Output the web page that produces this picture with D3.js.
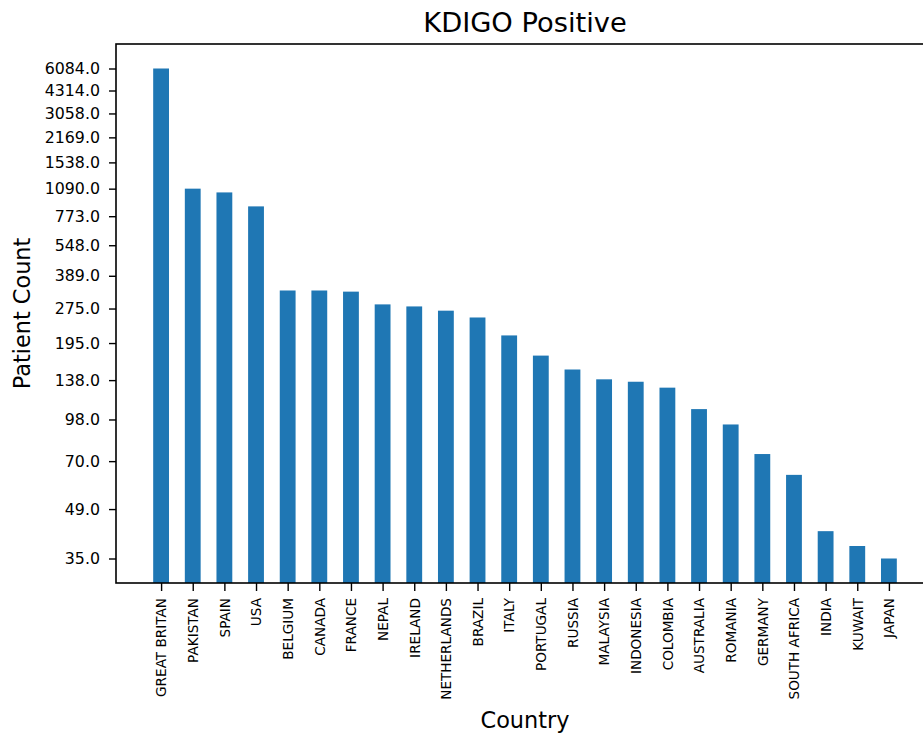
<!DOCTYPE html>
<html>
<head>
<meta charset="utf-8">
<script src="https://cdn.jsdelivr.net/npm/d3@7"></script>
<style>
  body { margin: 0; background: #fff; }
  text { font-family: "DejaVu Sans", sans-serif; fill: #000; }
</style>
</head>
<body>
<div id="chart-container"></div>
<script>
// KDIGO positive patient counts per country
var countries = ["GREAT BRITAN", "PAKISTAN", "SPAIN", "USA", "BELGIUM", "CANADA", "FRANCE",
  "NEPAL", "IRELAND", "NETHERLANDS", "BRAZIL", "ITALY", "PORTUGAL", "RUSSIA", "MALAYSIA",
  "INDONESIA", "COLOMBIA", "AUSTRALIA", "ROMANIA", "GERMANY", "SOUTH AFRICA", "INDIA",
  "KUWAIT", "JAPAN"];
var counts = [6084, 1090, 1039, 872, 332, 332, 328, 287, 281, 269, 251, 210, 173, 152, 139,
  136, 129, 107, 94, 74, 63, 42, 38, 35];
var yTicks = [35, 49, 70, 98, 138, 195, 275, 389, 548, 773, 1090, 1538, 2169, 3058, 4314, 6084];

var W = 923, H = 738;
var margin = {left: 116, top: 44},
    width = 818,
    height = 539;

var svg = d3.select("#chart-container")
    .append("svg")
    .attr("width", W)
    .attr("height", H);

var g = svg.append("g")
    .attr("transform", `translate(${margin.left},${margin.top})`);

// x: category index with matplotlib-like 5% margins
var n = countries.length;
var span = (n - 1) + 0.5;
var x = d3.scaleLinear()
    .domain([-0.25 - 0.05 * span, n - 1 + 0.25 + 0.05 * span])
    .range([0, width]);

// y: values were plotted as log(count) on a log axis
var lnln = counts.map(function(d) { return Math.log(Math.log(d)); });
var a = d3.min(lnln), b = d3.max(lnln), s = b - a;
var y = d3.scaleLog()
    .domain([Math.exp(a - 0.05 * s), Math.exp(b + 0.05 * s)])
    .range([height, 0]);
function yv(v) { return y(Math.log(v)); }

// bars
g.selectAll(".bar")
    .data(counts)
  .enter().append("rect")
    .attr("class", "bar")
    .style("fill", "#1f77b4")
    .attr("x", function(d, i) { return x(i - 0.25); })
    .attr("width", x(0.5) - x(0))
    .attr("y", function(d) { return yv(d); })
    .attr("height", function(d) { return height - yv(d); });

// y axis
var yAxis = d3.axisLeft(y)
    .tickValues(yTicks.map(function(t) { return Math.log(t); }))
    .tickFormat(function(d) { return Math.round(Math.exp(d)).toFixed(1); })
    .tickSize(7)
    .tickPadding(9);
var ya = g.append("g").attr("class", "y axis").call(yAxis);
ya.select(".domain").remove();
ya.selectAll(".tick line").attr("stroke", "#000").attr("stroke-width", 1.4);
ya.selectAll(".tick text").style("font-size", "15.8px").style("font-family", "DejaVu Sans");

// x axis
var xAxis = d3.axisBottom(x)
    .tickValues(d3.range(n))
    .tickFormat(function(i) { return countries[i]; })
    .tickSize(8);
var xa = g.append("g")
    .attr("class", "x axis")
    .attr("transform", `translate(0,${height})`)
    .call(xAxis);
xa.select(".domain").remove();
xa.selectAll(".tick line").attr("stroke", "#000").attr("stroke-width", 1.4);
xa.selectAll(".tick text")
    .style("font-size", "13.6px")
    .style("font-family", "DejaVu Sans")
    .attr("text-anchor", "end")
    .attr("dy", "0.35em")
    .attr("x", 0)
    .attr("y", 0)
    .attr("transform", "translate(0,15) rotate(-90)");

// frame
g.append("rect")
    .attr("x", 0).attr("y", 0)
    .attr("width", width).attr("height", height)
    .attr("fill", "none")
    .attr("stroke", "#000")
    .attr("stroke-width", 1.6);

// titles
svg.append("text")
    .attr("x", margin.left + width / 2)
    .attr("y", 32)
    .attr("text-anchor", "middle")
    .style("font-size", "27.3px")
    .text("KDIGO Positive");

svg.append("text")
    .attr("x", margin.left + width / 2)
    .attr("y", 728)
    .attr("text-anchor", "middle")
    .style("font-size", "22.4px")
    .text("Country");

svg.append("text")
    .attr("transform", `translate(30,${margin.top + height / 2}) rotate(-90)`)
    .attr("text-anchor", "middle")
    .style("font-size", "22.4px")
    .text("Patient Count");
</script>
</body>
</html>
